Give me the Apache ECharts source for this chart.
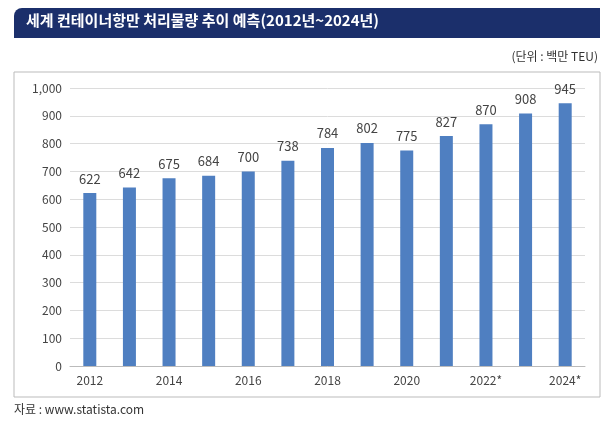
<!DOCTYPE html>
<html>
<head>
  <meta charset="utf-8">
  <script src="https://cdn.jsdelivr.net/npm/echarts@6/dist/echarts.min.js"></script>
  <style>
    body { margin: 0; background: #fff; }
    #chart { width: 614px; height: 428px; }
  </style>
</head>
<body>
  <div id="chart"></div>
  <script>
    const years = ['2012', '2013', '2014', '2015', '2016', '2017', '2018', '2019', '2020', '2021*', '2022*', '2023*', '2024*']
    const volumes = [622, 642, 675, 684, 700, 738, 784, 802, 775, 827, 870, 908, 945]
    const font = '"Noto Sans CJK KR", "Noto Sans", sans-serif'

    const option = {
      textStyle: { fontFamily: font },
      graphic: [
        // 제목 바
        { type: 'rect', shape: { x: 14, y: 8, width: 586, height: 30, r: [8, 0, 0, 0] }, style: { fill: '#1b2f6b' } },
        { type: 'text', left: 26, top: 13, style: { text: '세계 컨테이너항만 처리물량 추이 예측(2012년~2024년)', fill: '#fff', font: 'bold 15px ' + font } },
        { type: 'text', right: 16, top: 50, style: { text: '(단위 : 백만 TEU)', fill: '#333', font: '12px ' + font } },
        // 차트 테두리
        { type: 'rect', shape: { x: 14, y: 72, width: 586, height: 325 }, style: { fill: 'none', stroke: '#bbb', lineWidth: 1 } },
        { type: 'text', left: 14, top: 403, style: { text: '자료 : www.statista.com', fill: '#333', font: '12px ' + font } }
      ],
      grid: { left: 70, right: 29, top: 88, bottom: 62 },
      xAxis: {
        type: 'category',
        data: years,
        axisTick: { show: false },
        axisLine: { lineStyle: { color: '#bbb' } },
        axisLabel: { color: '#444', fontSize: 12 }
      },
      yAxis: {
        type: 'value',
        min: 0,
        max: 1000,
        interval: 100,
        axisLabel: { color: '#444', fontSize: 12, formatter: v => v.toLocaleString('en-US') },
        splitLine: { lineStyle: { color: '#dcdcdc' } }
      },
      series: [{
        type: 'bar',
        data: volumes,
        barWidth: 13,
        itemStyle: { color: '#4f7fc1' },
        label: { show: true, position: 'top', distance: 8, color: '#444', fontSize: 13 }
      }]
    }

    echarts.init(document.getElementById('chart')).setOption(option)
  </script>
</body>
</html>
